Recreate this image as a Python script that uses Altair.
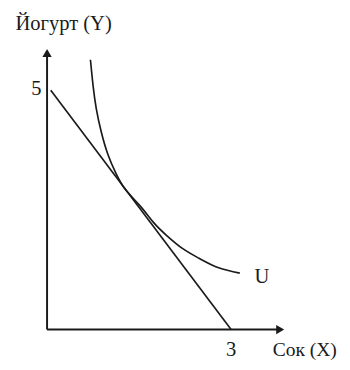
import altair as alt
import pandas as pd

# Budget line (Сок X, Йогурт Y)
budget_x = [0.06, 3.0]
budget_y = [5.0, 0.0]

# Indifference curve U
curve_x = [0.707, 0.750, 0.802, 0.882, 0.989, 1.121, 1.281, 1.520, 1.734, 1.946, 2.212, 2.477, 2.796, 3.142]
curve_y = [5.64, 5.10, 4.62, 4.14, 3.67, 3.27, 2.92, 2.58, 2.24, 1.97, 1.69, 1.49, 1.29, 1.18]

X_MAX = 3.9
Y_MAX = 5.9

xs = alt.Scale(domain=[0, X_MAX], nice=False, zero=False)
ys = alt.Scale(domain=[0, Y_MAX], nice=False, zero=False)

FONT = "Liberation Serif"
COL = "#1a1a1a"

budget = pd.DataFrame({"x": budget_x, "y": budget_y})
curve = pd.DataFrame({"x": curve_x, "y": curve_y, "o": list(range(len(curve_x)))})

axes_df = pd.DataFrame({"x": [0, 0], "y": [0, 0], "x2": [X_MAX - 0.08, 0], "y2": [0, Y_MAX - 0.1]})

axes = alt.Chart(axes_df).mark_rule(color=COL, strokeWidth=2).encode(
    x=alt.X("x:Q", scale=xs, axis=None),
    y=alt.Y("y:Q", scale=ys, axis=None),
    x2="x2:Q",
    y2="y2:Q",
)

arrows_df = pd.DataFrame({"x": [X_MAX - 0.1, 0], "y": [0, Y_MAX - 0.12], "s": ["triangle-right", "triangle-up"]})
arrows = alt.Chart(arrows_df).mark_point(filled=True, color=COL, size=90, opacity=1, clip=False).encode(
    x=alt.X("x:Q", scale=xs, axis=None),
    y=alt.Y("y:Q", scale=ys, axis=None),
    shape=alt.Shape("s:N", scale=None, legend=None),
)

bline = alt.Chart(budget).mark_line(color=COL, strokeWidth=1.7).encode(
    x=alt.X("x:Q", scale=xs, axis=None),
    y=alt.Y("y:Q", scale=ys, axis=None),
)

uline = alt.Chart(curve).mark_line(color=COL, strokeWidth=1.7, interpolate="natural").encode(
    x=alt.X("x:Q", scale=xs, axis=None),
    y=alt.Y("y:Q", scale=ys, axis=None),
    order="o:Q",
)

labels_df = pd.DataFrame({
    "x": [0, 3.0, 3.5, 4.2, 0.27],
    "y": [5.0, 0.0, 1.1, 0.0, 6.39],
    "dx": [-11, 0, 0, 0, 0],
    "dy": [-1, 21, 0, 21, 0],
    "t": ["5", "3", "U", "Сок (X)", "Йогурт (Y)"],
    "size": [21, 21, 21, 20, 21],
})

def lab(i):
    r = labels_df.iloc[[i]]
    return alt.Chart(r).mark_text(
        font=FONT, color=COL, fontSize=int(r["size"].iloc[0]),
        dx=int(r["dx"].iloc[0]), dy=int(r["dy"].iloc[0]),
        align="center", baseline="middle", clip=False,
    ).encode(
        x=alt.X("x:Q", scale=xs, axis=None),
        y=alt.Y("y:Q", scale=ys, axis=None),
        text="t:N",
    )

texts = [lab(i) for i in range(len(labels_df))]

chart = alt.layer(axes, bline, uline, arrows, *texts).properties(
    width=245, height=289,
    autosize=alt.AutoSizeParams(type="none"),
    padding={"left": 40, "top": 36, "right": 57, "bottom": 29},
).configure_view(stroke=None, clip=False)

chart.save("out.html", embed_options={"renderer": "svg", "actions": False})
